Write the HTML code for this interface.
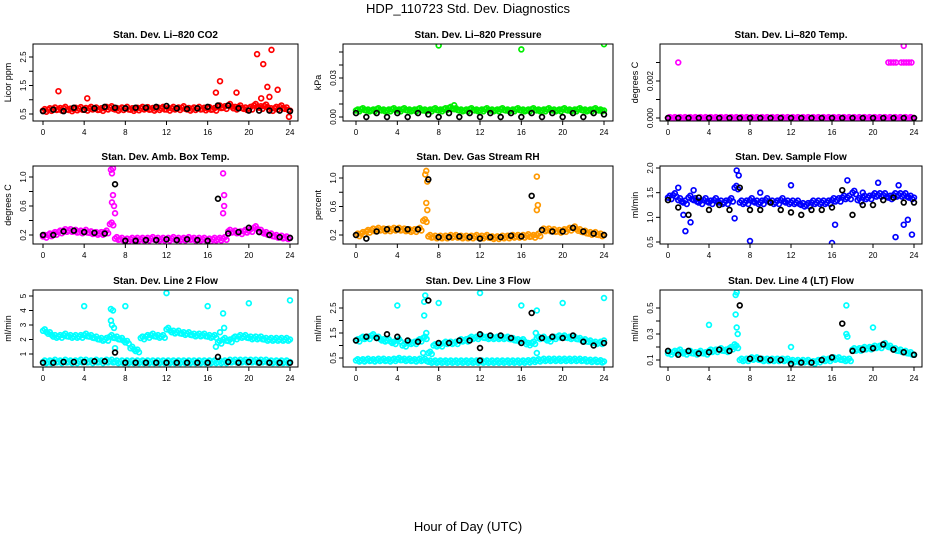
<!DOCTYPE html>
<html><head><meta charset="utf-8"><style>
body{margin:0;background:#fff}
svg{display:block;font-family:"Liberation Sans",Arial,sans-serif}
</style></head><body>
<svg id="c" width="936" height="540" viewBox="0 0 936 540">
<text x="468" y="13" text-anchor="middle" font-size="13">HDP_110723  Std. Dev. Diagnostics</text>
<text x="468" y="531" text-anchor="middle" font-size="13">Hour of Day (UTC)</text>
</svg>
<script>
const halfHours=[0,0.5,1,1.5,2,2.5,3,3.5,4,4.5,5,5.5,6,6.5,7,7.5,8,8.5,9,9.5,10,10.5,11,11.5,12,12.5,13,13.5,14,14.5,15,15.5,16,16.5,17,17.5,18,18.5,19,19.5,20,20.5,21,21.5,22,22.5,23,23.5,24];
const hours=[0,1,2,3,4,5,6,7,8,9,10,11,12,13,14,15,16,17,18,19,20,21,22,23,24];
const xTicks=[0,4,8,12,16,20,24];

const co2Color=[0.62,0.65,0.68,0.66,0.7,0.64,0.67,0.69,0.66,0.7,0.68,0.65,0.7,0.72,0.66,0.68,0.7,0.65,0.67,0.7,0.69,0.66,0.68,0.7,0.66,0.7,0.68,0.72,0.66,0.68,0.7,0.67,0.69,0.66,0.75,0.72,0.8,0.7,0.75,0.68,0.7,0.8,0.72,0.78,0.65,0.7,0.75,0.68,0.62];
const co2Black=[0.6,0.65,0.6,0.72,0.65,0.7,0.75,0.72,0.7,0.72,0.72,0.75,0.78,0.7,0.68,0.7,0.75,0.8,0.8,0.7,0.62,0.62,0.62,0.62,0.6];
const co2Out=[[1.5,1.3],[4.3,1.05],[16.8,1.25],[17.2,1.65],[18.8,1.25],[20.8,2.6],[21.4,2.25],[21.8,1.45],[22.2,2.75],[22.8,1.35],[23.9,0.4],[21.2,1.05],[22,1.1]];

const presColor=[0.005,0.006,0.005,0.005,0.006,0.005,0.005,0.006,0.005,0.006,0.005,0.005,0.006,0.005,0.005,0.006,0.005,0.006,0.007,0.006,0.005,0.005,0.006,0.005,0.005,0.006,0.005,0.005,0.006,0.005,0.005,0.006,0.005,0.005,0.006,0.005,0.005,0.006,0.005,0.005,0.006,0.005,0.005,0.006,0.005,0.005,0.006,0.005,0.005];
const presBlack=[0.003,0,0.003,0,0.003,0,0.003,0.002,0,0.003,0,0.003,0,0.003,0,0.003,0,0.003,0,0.003,0,0.003,0,0.003,0.002];
const presOut=[[8,0.055],[16,0.052],[24,0.056],[9.5,0.009]];

const tempColor=[0,0,0,0,0,0,0,0,0,0,0,0,0,0,0,0,0,0,0,0,0,0,0,0,0,0,0,0,0,0,0,0,0,0,0,0,0,0,0,0,0,0,0,0,0,0,0,0,0];
const tempBlack=[0,0,0,0,0,0,0,0,0,0,0,0,0,0,0,0,0,0,0,0,0,0,0,0,0];
const tempOut=[[1,0.003],[21.5,0.003],[21.75,0.003],[22,0.003],[22.25,0.003],[22.75,0.003],[23,0.003],[23.25,0.003],[23.5,0.003],[23.75,0.003],[23,0.0039]];

const ambColor=[0.18,0.2,0.22,0.24,0.26,0.26,0.25,0.24,0.25,0.23,0.22,0.22,0.24,0.35,0.15,0.14,0.13,0.14,0.14,0.14,0.14,0.15,0.14,0.14,0.14,0.15,0.14,0.14,0.15,0.14,0.14,0.14,0.13,0.14,0.14,0.15,0.25,0.24,0.23,0.25,0.26,0.3,0.25,0.22,0.2,0.18,0.17,0.16,0.16];
const ambBlack=[0.2,0.2,0.25,0.26,0.24,0.23,0.22,0.9,0.12,0.12,0.13,0.13,0.14,0.13,0.14,0.13,0.12,0.7,0.22,0.24,0.3,0.24,0.2,0.17,0.16];
const ambOut=[[6.6,1.1],[6.7,1.05],[6.8,0.75],[6.7,0.65],[6.9,0.6],[7,0.5],[17.5,1.05],[17.6,0.75],[17.5,0.5],[17.6,0.6],[6.8,1.12]];

const rhColor=[0.2,0.22,0.25,0.27,0.28,0.27,0.27,0.28,0.28,0.27,0.26,0.26,0.28,0.4,0.18,0.17,0.17,0.17,0.18,0.18,0.17,0.17,0.17,0.18,0.17,0.18,0.16,0.16,0.17,0.17,0.18,0.18,0.18,0.19,0.18,0.2,0.27,0.27,0.26,0.25,0.26,0.28,0.3,0.26,0.24,0.22,0.22,0.2,0.2];
const rhBlack=[0.2,0.15,0.25,0.28,0.28,0.28,0.28,0.98,0.17,0.17,0.18,0.17,0.15,0.17,0.17,0.19,0.18,0.75,0.27,0.25,0.25,0.3,0.25,0.22,0.2];
const rhOut=[[6.7,1.05],[6.8,1.1],[6.9,0.95],[6.8,0.65],[6.9,0.55],[17.5,1.02],[17.6,0.62],[17.5,0.55]];

const sfColor=[1.4,1.45,1.35,1.3,1.4,1.35,1.3,1.35,1.3,1.35,1.3,1.3,1.35,1.6,1.3,1.3,1.35,1.3,1.3,1.35,1.3,1.3,1.35,1.3,1.3,1.3,1.25,1.25,1.3,1.3,1.3,1.3,1.35,1.35,1.4,1.4,1.5,1.35,1.4,1.4,1.45,1.45,1.45,1.4,1.45,1.45,1.45,1.4,1.4];
const sfBlack=[1.35,1.2,1.05,1.4,1.15,1.25,1.15,1.6,1.15,1.15,1.3,1.15,1.1,1.05,1.15,1.15,1.2,1.55,1.05,1.25,1.25,1.35,1.4,1.3,1.3];
const sfOut=[[1.5,1.05],[1.7,0.72],[2.2,0.9],[1,1.6],[2.5,1.55],[6.5,0.98],[6.7,1.95],[6.9,1.85],[8,0.52],[12,1.65],[16,0.48],[16.3,0.85],[17.5,1.75],[20.5,1.7],[22.5,1.65],[22.2,0.6],[23,0.85],[23.4,0.95],[23.8,0.65],[19,1.5],[9,1.5]];

const l2Color=[2.6,2.4,2.2,2.2,2.3,2.2,2.2,2.2,2.3,2.2,2.1,2.0,2.0,2.2,2.1,2.0,1.8,1.4,1.2,2.1,2.2,2.3,2.2,2.2,2.7,2.5,2.5,2.4,2.4,2.3,2.3,2.3,2.2,2.2,1.8,2.0,1.9,2.1,2.2,2.2,2.1,2.1,2.1,2.0,2.0,2.0,2.0,2.0,2.0];
const l2Low=[0.45,0.45,0.5,0.45,0.5,0.45,0.45,0.5,0.5,0.45,0.5,0.45,0.5,0.5,0.45,0.45,0.45,0.45,0.45,0.45,0.45,0.45,0.45,0.45,0.45,0.45,0.45,0.45,0.45,0.45,0.45,0.45,0.45,0.45,0.45,0.45,0.5,0.5,0.5,0.5,0.5,0.5,0.5,0.5,0.45,0.45,0.45,0.45,0.45];
const l2Black=[0.4,0.4,0.45,0.45,0.45,0.5,0.5,1.1,0.4,0.4,0.4,0.4,0.4,0.4,0.4,0.4,0.4,0.8,0.45,0.4,0.45,0.4,0.4,0.4,0.4];
const l2Out=[[4,4.3],[6.6,4.1],[6.8,4.0],[6.6,3.3],[6.7,3.0],[6.9,2.8],[8,4.3],[12,5.2],[16,4.3],[17.5,3.8],[17.6,2.8],[17.2,2.5],[20,4.5],[24,4.7],[7,1.4],[16.8,1.5]];

const l3Color=[1.2,1.3,1.3,1.4,1.3,1.2,1.2,1.1,1.2,1.0,1.1,1.1,1.2,1.3,0.7,1.0,1.0,1.1,1.1,1.1,1.2,1.2,1.3,1.3,1.35,1.3,1.3,1.3,1.3,1.3,1.25,1.2,1.2,1.05,1.1,1.3,1.3,1.2,1.3,1.35,1.35,1.3,1.3,1.25,1.2,1.15,1.1,1.1,1.2];
const l3Low=[0.4,0.4,0.42,0.4,0.42,0.42,0.4,0.42,0.45,0.42,0.42,0.4,0.42,0.42,0.35,0.35,0.35,0.35,0.35,0.35,0.35,0.35,0.35,0.35,0.35,0.35,0.35,0.35,0.35,0.35,0.35,0.35,0.35,0.36,0.38,0.4,0.42,0.42,0.42,0.42,0.42,0.42,0.42,0.42,0.4,0.38,0.38,0.36,0.36];
const l3Black=[1.2,1.35,1.3,1.45,1.35,1.2,1.15,2.8,1.1,1.1,1.2,1.2,1.45,1.4,1.4,1.3,1.1,2.3,1.3,1.35,1.3,1.4,1.15,1.0,1.1];
const l3BlackOut=[[12,0.4],[12,0.9]];
const l3Out=[[4,2.6],[6.7,3.0],[6.6,2.75],[6.6,2.2],[6.8,1.5],[6.5,0.7],[8,2.7],[12,3.1],[16,2.6],[17.5,2.4],[17.4,1.5],[17.5,0.7],[20,2.7],[24,2.9]];

const l4Color=[0.15,0.16,0.17,0.15,0.16,0.15,0.16,0.15,0.17,0.17,0.18,0.17,0.19,0.2,0.1,0.1,0.11,0.11,0.1,0.1,0.1,0.1,0.1,0.1,0.09,0.09,0.09,0.09,0.08,0.09,0.1,0.1,0.11,0.11,0.1,0.1,0.18,0.18,0.19,0.19,0.2,0.2,0.22,0.2,0.18,0.17,0.16,0.15,0.14];
const l4Black=[0.17,0.14,0.17,0.15,0.16,0.18,0.17,0.52,0.11,0.11,0.1,0.1,0.07,0.08,0.08,0.1,0.12,0.38,0.17,0.18,0.19,0.22,0.18,0.16,0.14];
const l4Out=[[4,0.37],[6.6,0.6],[6.7,0.62],[6.6,0.45],[6.7,0.35],[6.8,0.3],[6.5,0.22],[12,0.2],[17.4,0.52],[17.4,0.3],[17.5,0.28],[20,0.35]];

const cols=[{x0:43,x24:290,bl:33,br:298},{x0:356,x24:604,bl:343,br:613},{x0:668,x24:914,bl:660,br:922}];
const rows=[{t:44,b:121},{t:166,b:244},{t:290,b:367}];

const panels=[
 {name:'co2',title:'Stan. Dev. Li\u2013820 CO2',ylab:'Licor ppm',c:0,r:0,col:'#ff0000',ref:[0.5,114,2.5,57],ticks:[0.5,1,1.5,2,2.5],labels:[0.5,1.5,2.5],fmt:1,series:[co2Color],black:co2Black,out:co2Out},
 {name:'pressure',title:'Stan. Dev. Li\u2013820 Pressure',ylab:'kPa',c:1,r:0,col:'#00ee00',ref:[0,117,0.03,78],ticks:[0,0.01,0.02,0.03,0.04,0.05],labels:[0,0.03],fmt:2,series:[presColor],black:presBlack,out:presOut},
 {name:'temp',title:'Stan. Dev. Li\u2013820 Temp.',ylab:'degrees C',c:2,r:0,col:'#ff00ff',ref:[0,118,0.002,81],ticks:[0,0.001,0.002,0.003],labels:[0,0.002],fmt:3,series:[tempColor],black:tempBlack,out:tempOut},
 {name:'amb-box-temp',title:'Stan. Dev. Amb. Box Temp.',ylab:'degrees C',c:0,r:1,col:'#ff00ff',ref:[0.2,235,1.0,177],ticks:[0.2,0.4,0.6,0.8,1.0],labels:[0.2,0.6,1.0],fmt:1,series:[ambColor],black:ambBlack,out:ambOut},
 {name:'gas-rh',title:'Stan. Dev. Gas Stream RH',ylab:'percent',c:1,r:1,col:'#ff9900',ref:[0.2,235,1.0,178],ticks:[0.2,0.4,0.6,0.8,1.0],labels:[0.2,0.6,1.0],fmt:1,series:[rhColor],black:rhBlack,out:rhOut},
 {name:'sample-flow',title:'Stan. Dev. Sample Flow',ylab:'ml/min',c:2,r:1,col:'#0000ff',ref:[0.5,242,2.0,168],ticks:[0.5,1,1.5,2],labels:[0.5,1,1.5,2],fmt:1,series:[sfColor],black:sfBlack,out:sfOut},
 {name:'line2-flow',title:'Stan. Dev. Line 2 Flow',ylab:'ml/min',c:0,r:2,col:'#00ffff',ref:[1,354,5,296],ticks:[1,2,3,4,5],labels:[1,2,3,4,5],fmt:0,series:[l2Color,l2Low],black:l2Black,out:l2Out},
 {name:'line3-flow',title:'Stan. Dev. Line 3 Flow',ylab:'ml/min',c:1,r:2,col:'#00ffff',ref:[0.5,358,2.5,308],ticks:[0.5,1,1.5,2,2.5],labels:[0.5,1.5,2.5],fmt:1,series:[l3Color,l3Low],black:l3Black,out:l3Out,bout:l3BlackOut},
 {name:'line4-flow',title:'Stan. Dev. Line 4 (LT) Flow',ylab:'ml/min',c:2,r:2,col:'#00ffff',ref:[0.1,360,0.5,308],ticks:[0.1,0.2,0.3,0.4,0.5],labels:[0.1,0.3,0.5],fmt:1,series:[l4Color],black:l4Black,out:l4Out}
];

const svg=document.getElementById('c');
const NS='http://www.w3.org/2000/svg';
function mk(tag,attrs,parent){const e=document.createElementNS(NS,tag);for(const k in attrs)e.setAttribute(k,attrs[k]);parent.appendChild(e);return e;}

panels.forEach(p=>{
 const C=cols[p.c],R=rows[p.r];
 const xs=h=>C.x0+(C.x24-C.x0)*h/24;
 const ys=v=>p.ref[1]+(v-p.ref[0])*(p.ref[3]-p.ref[1])/(p.ref[2]-p.ref[0]);
 const span=p.ref[2]-p.ref[0];
 const g=mk('g',{},svg);
 
 
 const t=mk('text',{x:(C.bl+C.br)/2,y:R.t-6,'text-anchor':'middle','font-size':'10','font-weight':'bold'},g);
 t.textContent=p.title;
 
 
 const yl=mk('text',{x:0,y:0,'text-anchor':'middle','font-size':'9',transform:`translate(${C.bl-22},${(R.t+R.b)/2}) rotate(-90)`},g);
 yl.textContent=p.ylab;
 
 
 const clip='clip-'+p.name;
 const cp=mk('clipPath',{id:clip},g);
 mk('rect',{x:C.bl,y:R.t,width:C.br-C.bl,height:R.b-R.t},cp);
 const pts=mk('g',{'clip-path':`url(#${clip})`,fill:'none','stroke-width':'1.7'},g);
 function dot(x,y,color,nm){const e=mk('circle',{cx:x,cy:y,r:2.4,stroke:color},pts);}
 p.series.forEach(s=>s.forEach((v,i)=>{
  dot(xs(halfHours[i]),ys(v),p.col,p.name+'-point');
  if(i<s.length-1){
   dot(xs(halfHours[i]+0.17),ys(v+span*0.025),p.col,p.name+'-point');
   dot(xs(halfHours[i]+0.33),ys(v-span*0.02),p.col,p.name+'-point');
  }
 }));
 p.out.forEach(o=>dot(xs(o[0]),ys(o[1]),p.col,p.name+'-outlier'));
 p.black.forEach((v,i)=>dot(xs(hours[i]),ys(v),'#000',p.name+'-black-point'));
 (p.bout||[]).forEach(o=>dot(xs(o[0]),ys(o[1]),'#000',p.name+'-black-outlier'));
 const box=mk('rect',{x:C.bl,y:R.t,width:C.br-C.bl,height:R.b-R.t,fill:'none',stroke:'#000','stroke-width':'1'},g);
 
 
 xTicks.forEach(h=>{
  mk('line',{x1:xs(h),x2:xs(h),y1:R.b,y2:R.b+4,stroke:'#000'},g);
  const tx=mk('text',{x:xs(h),y:R.b+14,'text-anchor':'middle','font-size':'8'},g);
  tx.textContent=h;
  
  
 });
 p.ticks.forEach(v=>mk('line',{x1:C.bl-4,x2:C.bl,y1:ys(v),y2:ys(v),stroke:'#000'},g));
 p.labels.forEach(v=>{
  const tx=mk('text',{x:0,y:0,'text-anchor':'middle','font-size':'8',transform:`translate(${C.bl-7},${ys(v)}) rotate(-90)`},g);
  tx.textContent=v.toFixed(p.fmt);
  
  
 });
});
</script>
</body></html>
